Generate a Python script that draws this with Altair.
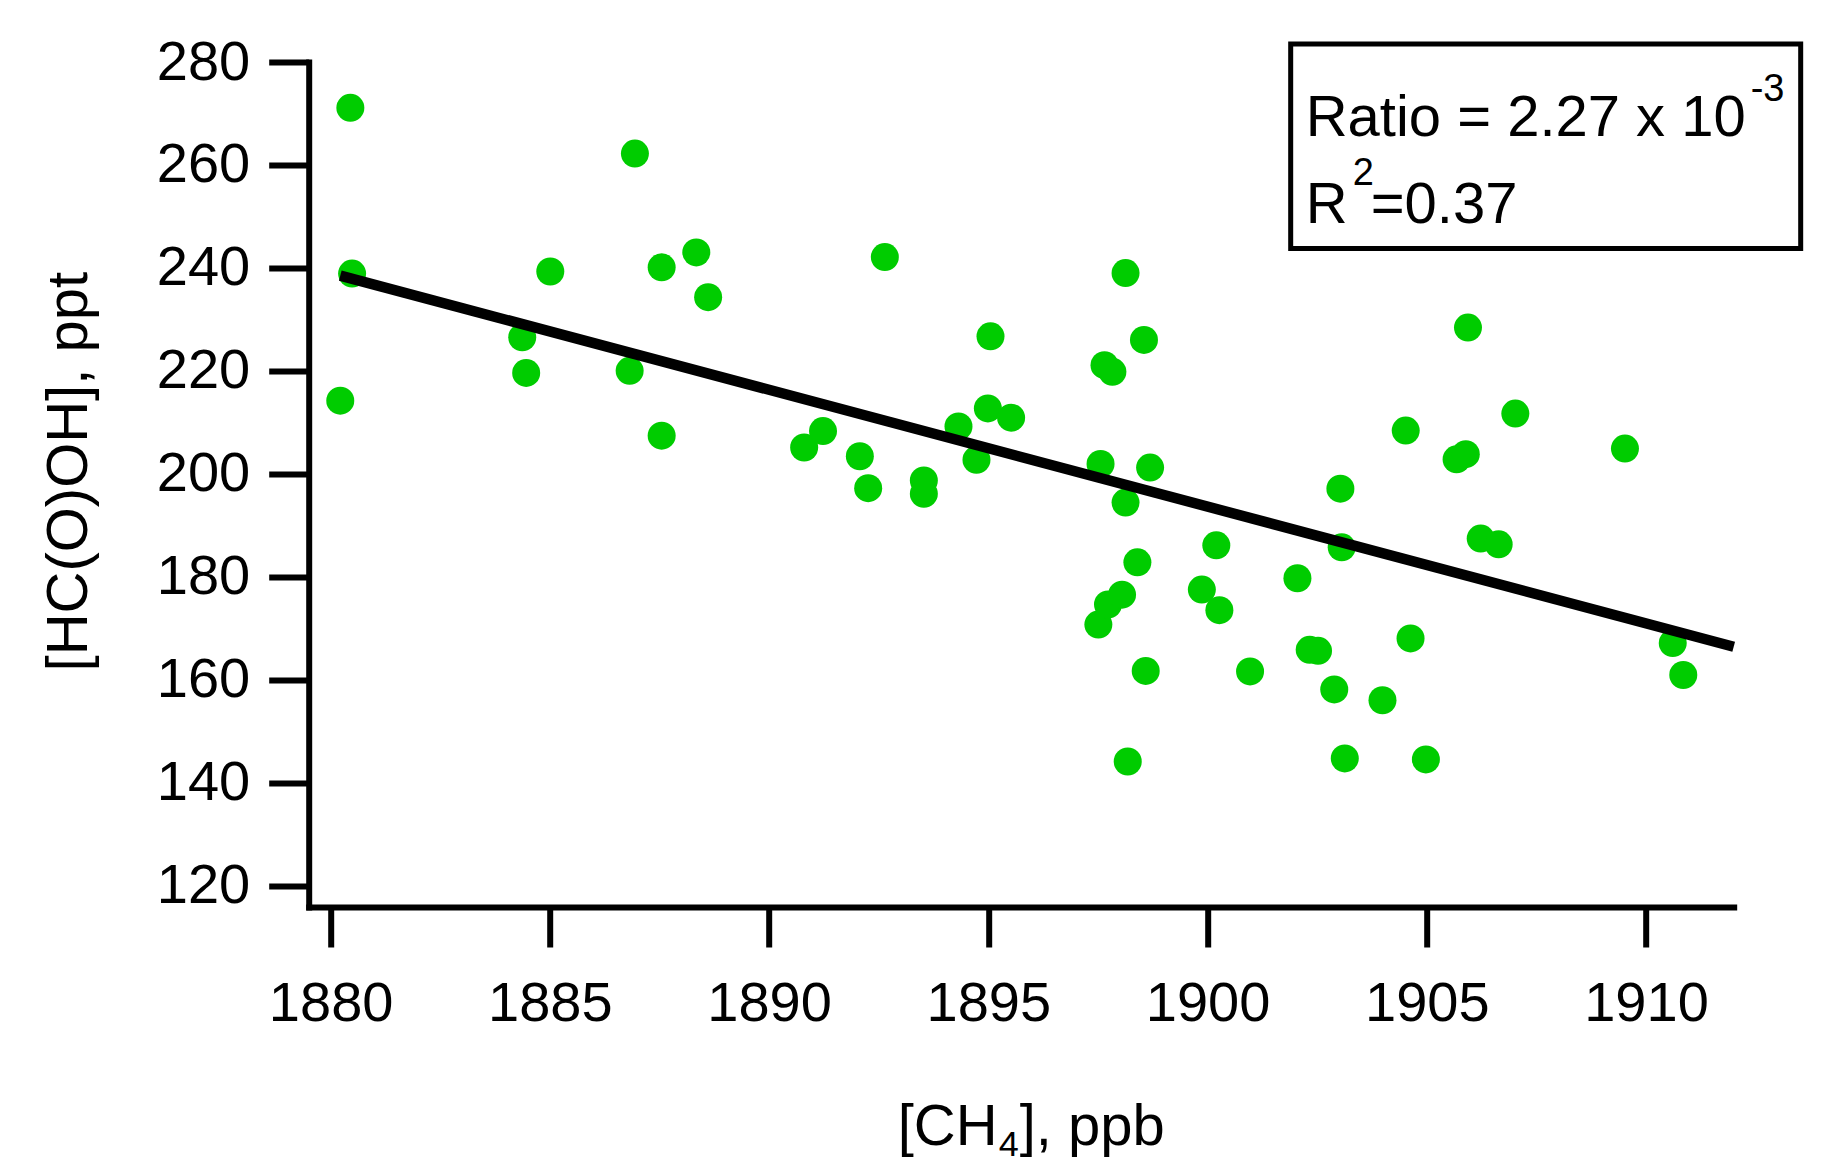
import altair as alt
import pandas as pd

# ---- data ----
ch4 = [1880.45, 1880.49, 1880.22, 1884.37, 1884.46, 1885.01, 1886.94, 1886.82,
       1887.55, 1887.55, 1888.34, 1888.61, 1890.80, 1891.23, 1892.07, 1892.26,
       1892.64, 1893.53, 1893.53, 1894.32, 1894.73, 1894.99, 1895.05, 1895.52,
       1897.56, 1897.65, 1897.83, 1897.51, 1897.73, 1898.05, 1898.13, 1898.13,
       1898.40, 1898.55, 1898.69, 1898.59, 1898.18, 1899.87, 1900.20, 1900.27,
       1900.97, 1902.05, 1902.33, 1902.52, 1903.03, 1903.06, 1902.89, 1903.13,
       1903.99, 1904.52, 1904.63, 1904.98, 1905.68, 1905.89, 1905.94, 1906.23,
       1906.64, 1907.02, 1909.52, 1910.61, 1910.85]
hcooh = [271.1, 238.9, 214.2, 226.5, 219.6, 239.3, 262.2, 220.0,
         240.1, 207.4, 243.0, 234.3, 205.1, 208.3, 203.4, 197.2,
         242.1, 198.7, 196.1, 209.2, 202.7, 212.7, 226.7, 210.9,
         201.9, 221.1, 219.8, 170.7, 174.6, 176.5, 194.4, 239.0,
         182.8, 226.0, 201.2, 161.7, 144.1, 177.5, 186.1, 173.5,
         161.6, 179.7, 165.8, 165.6, 197.1, 185.7, 158.1, 144.7,
         156.0, 208.4, 168.0, 144.5, 202.8, 203.8, 228.4, 187.4,
         186.3, 211.7, 204.9, 167.1, 160.9]
fit_ch4 = [1880.22, 1912.0]
fit_hcooh = [238.5, 166.4]

x_ticks = [1880, 1885, 1890, 1895, 1900, 1905, 1910]
y_ticks = [120, 140, 160, 180, 200, 220, 240, 260, 280]

y_title = "[HC(O)OH], ppt"
x_title_parts = ["[CH", "4", "], ppb"]
ratio_parts = ["Ratio = 2.27 x 10", "-3"]
r2_parts = ["R", "2", "=0.37"]

# ---- layout ----
FONT = "Liberation Sans"
W, H = 1425, 845
GREEN = "#00CC00"

pts = pd.DataFrame({"ch4": ch4, "hcooh": hcooh})
fit = pd.DataFrame({"ch4": fit_ch4, "hcooh": fit_hcooh})

xscale = alt.Scale(domain=[1879.5, 1912.0], nice=False, zero=False)
yscale = alt.Scale(domain=[115.83, 280], nice=False, zero=False)

axis_common = dict(
    title=None, grid=False, domainWidth=6, domainColor="black", domainCap="square",
    tickWidth=6, tickColor="black", tickSize=40, labelFont=FONT, labelFontSize=56,
    labelColor="black", labelFlush=False, labelOverlap=False, format="d",
)
xaxis = alt.Axis(values=x_ticks, labelPadding=30, **axis_common)
yaxis = alt.Axis(values=y_ticks, labelPadding=19, **axis_common)

points = alt.Chart(pts).mark_circle(size=784, color=GREEN, opacity=1).encode(
    x=alt.X("ch4:Q", scale=xscale, axis=xaxis),
    y=alt.Y("hcooh:Q", scale=yscale, axis=yaxis),
)
line = alt.Chart(fit).mark_line(color="black", strokeWidth=10.5, strokeCap="butt").encode(
    x=alt.X("ch4:Q", scale=xscale),
    y=alt.Y("hcooh:Q", scale=yscale),
)

one = pd.DataFrame({"k": [0]})


def label(txt, x, y, size, align="left", angle=0):
    return alt.Chart(pd.DataFrame({"t": [txt]})).mark_text(
        align=align, baseline="alphabetic", font=FONT, fontSize=size,
        color="black", angle=angle,
    ).encode(text="t:N", x=alt.value(x), y=alt.value(y))


box = alt.Chart(one).mark_rect(fill="white", stroke="black", strokeWidth=5).encode(
    x=alt.value(982), x2=alt.value(1492), y=alt.value(-18), y2=alt.value(186.6)
)

texts = [
    label(y_title, -221.7, 409.7, 58, align="center", angle=270),
    label(x_title_parts[0], 589, 1083, 58),
    label(x_title_parts[1], 690, 1094, 36),
    label(x_title_parts[2], 711, 1083, 58),
    label(ratio_parts[0], 997, 74, 58),
    label(ratio_parts[1], 1442, 38.9, 38),
    label(r2_parts[0], 997, 160.8, 58),
    label(r2_parts[1], 1044, 123.3, 38),
    label(r2_parts[2], 1062, 160.8, 58),
]

chart = alt.layer(box, points, line, *texts).properties(
    width=W, height=H,
    autosize=alt.AutoSizeParams(type="none"),
    padding={"left": 300.7, "top": 54, "right": 90, "bottom": 258},
    background="white",
).configure_view(stroke=None)

chart.save("out.html", embed_options={"renderer": "svg", "actions": False})
